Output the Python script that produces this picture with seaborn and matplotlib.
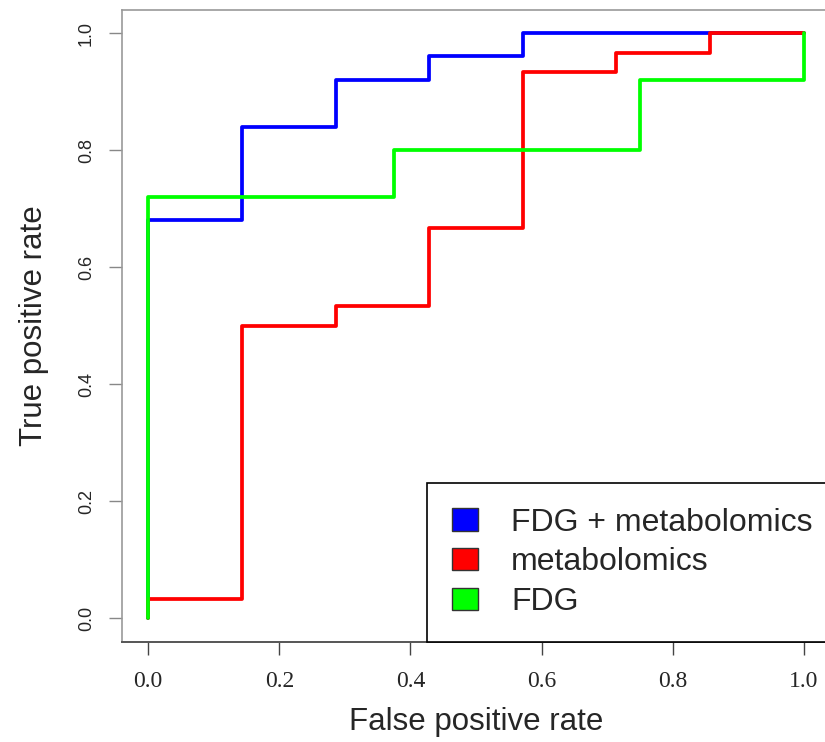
import numpy as np
import pandas as pd
import matplotlib
matplotlib.use('Agg')
import matplotlib.pyplot as plt
import seaborn as sns
from matplotlib.patches import Patch

# ROC step points (fpr, tpr)
models = ['FDG + metabolomics', 'metabolomics', 'FDG']
colors = ['#0000ff', '#ff0000', '#00ff00']

fpr_combined = [0, 0, 1/7, 2/7, 3/7, 4/7, 1]
tpr_combined = [0, 0.68, 0.84, 0.92, 0.96, 1.0, 1.0]

fpr_metab = [0, 0, 1/7, 2/7, 3/7, 4/7, 5/7, 6/7, 1]
tpr_metab = [0, 1/30, 15/30, 16/30, 20/30, 28/30, 29/30, 1.0, 1.0]

fpr_fdg = [0, 0, 0.375, 0.75, 1]
tpr_fdg = [0, 0.72, 0.80, 0.92, 1.0]

xticks = [0.0, 0.2, 0.4, 0.6, 0.8, 1.0]
yticks = [0.0, 0.2, 0.4, 0.6, 0.8, 1.0]

frames = []
for name, fx, ty in zip(models,
                        [fpr_combined, fpr_metab, fpr_fdg],
                        [tpr_combined, tpr_metab, tpr_fdg]):
    frames.append(pd.DataFrame({'fpr': fx, 'tpr': ty, 'model': name}))
roc_df = pd.concat(frames, ignore_index=True)

sns.set_theme(style='white')
plt.rcParams['font.family'] = ['Liberation Sans', 'DejaVu Sans']

fig = plt.figure(figsize=(8.25, 7.42), dpi=100)
W, H = 825, 742
left, right, top, bottom = 122, 830, 9.6, 641.5
ax = fig.add_axes([left / W, (H - bottom) / H, (right - left) / W, (bottom - top) / H])

sns.lineplot(data=roc_df, x='fpr', y='tpr', hue='model', hue_order=models,
             palette=colors, estimator=None, drawstyle='steps-post',
             linewidth=2.7, legend=False, ax=ax)

ax.set_xlim(-0.04, 1.04)
ax.set_ylim(-0.04, 1.04)
ax.set_xticks(xticks)
ax.set_yticks(yticks)
ax.set_xticklabels(['%.1f' % v for v in xticks], family='Liberation Serif', fontsize=17)
ax.set_yticklabels(['%.1f' % v for v in yticks], family='Liberation Sans', fontsize=13,
                   rotation=90, va='center')

ax.tick_params(axis='x', direction='out', length=9.4, width=1.0, color='#444444', pad=12,
               bottom=True)
ax.tick_params(axis='y', direction='out', length=9.4, width=1.0, color='#888888', pad=10,
               left=True)

for side in ['left', 'top']:
    ax.spines[side].set_color('#999999')
    ax.spines[side].set_linewidth(1.2)
ax.spines['bottom'].set_color('#555555')
ax.spines['bottom'].set_linewidth(1.4)
ax.spines['right'].set_visible(False)

ax.set_xlabel('False positive rate', fontsize=22.5, va='center')
ax.set_ylabel('True positive rate', fontsize=22.5, va='center')
ax.xaxis.set_label_coords(0.5, (bottom - 722) / (bottom - top))
ax.yaxis.set_label_coords((34 - left) / (right - left), 0.5)

handles = [Patch(facecolor=c, edgecolor='#333333', linewidth=1.0) for c in colors]
leg = ax.legend(handles, models, loc='lower left',
                bbox_to_anchor=((427 - left) / (right - left), 0),
                borderaxespad=0, fontsize=23, frameon=True, fancybox=False,
                edgecolor='black', framealpha=1, handlelength=0.82,
                handleheight=0.7, handletextpad=1.04, labelspacing=0.3,
                borderpad=0.77)
leg.get_frame().set_linewidth(1.2)

fig.savefig('out.png', dpi=100)
